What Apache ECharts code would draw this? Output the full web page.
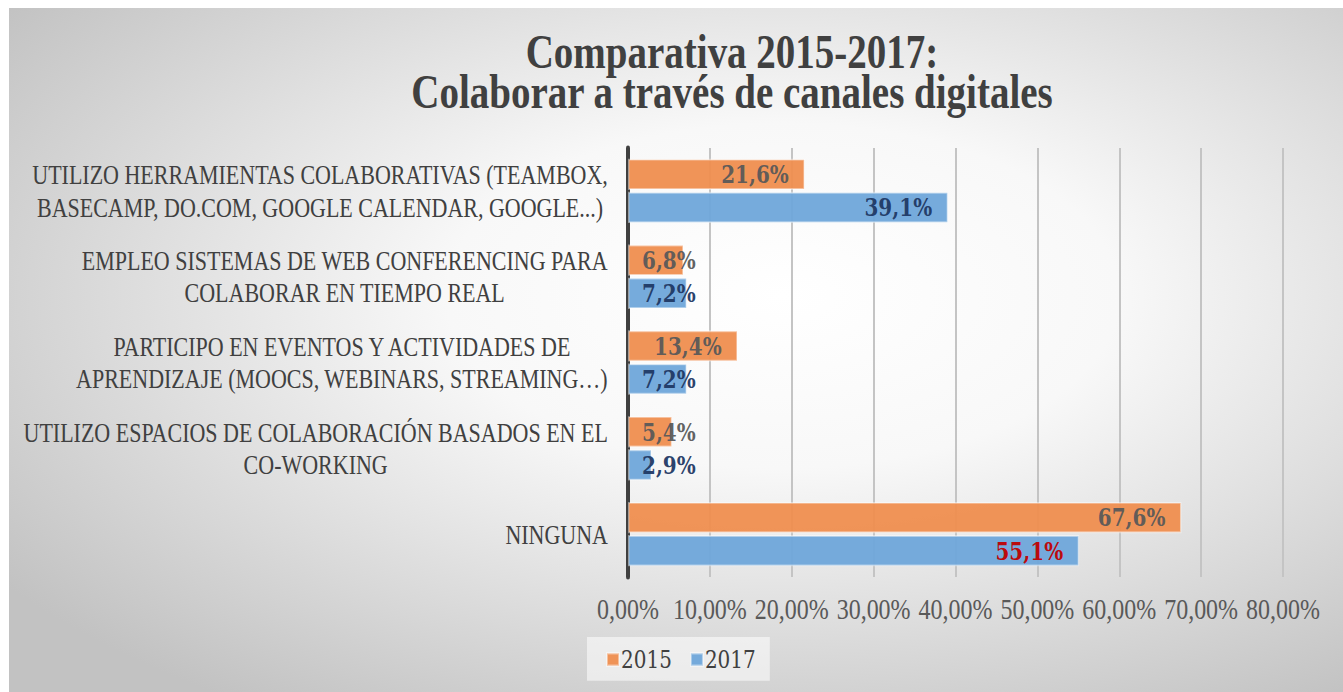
<!DOCTYPE html>
<html>
<head>
<meta charset="utf-8">
<script src="https://cdn.jsdelivr.net/npm/echarts@6/dist/echarts.min.js"></script>
<style>
html,body{margin:0;padding:0;background:#fff;width:1343px;height:692px;}
#wrap{width:1343px;height:692px;position:relative;overflow:visible;}
/* the original picture is a vertically stretched chart, so draw at 554px and stretch to 692px */
#main{position:absolute;left:0;top:0;width:1343px;height:554px;transform:scaleY(1.2491);transform-origin:0 0;}
</style>
</head>
<body>
<div id="wrap"><div id="main"></div></div>
<script>
var categories = [
  'UTILIZO HERRAMIENTAS COLABORATIVAS (TEAMBOX,\nBASECAMP, DO.COM, GOOGLE CALENDAR, GOOGLE...)',
  'EMPLEO SISTEMAS DE WEB CONFERENCING PARA\nCOLABORAR EN TIEMPO REAL',
  'PARTICIPO EN EVENTOS Y ACTIVIDADES DE\nAPRENDIZAJE (MOOCS, WEBINARS, STREAMING\u2026)',
  'UTILIZO ESPACIOS DE COLABORACIÓN BASADOS EN EL\nCO-WORKING',
  'NINGUNA'
];
var values2015 = [21.6, 6.8, 13.4, 5.4, 67.6];
var values2017 = [39.1, 7.2, 7.2, 2.9, 55.1];
var seriesNames = ['2015', '2017'];

var chart = echarts.init(document.getElementById('main'), null, {renderer: 'svg'});
var serif = '"Liberation Serif", "DejaVu Serif", serif';
var labelFont = '"DejaVu Serif", "Liberation Serif", serif';

function pct1(v){ return v.toFixed(1).replace('.', ',') + '%'; }

// small bars get their label at the start, others at the end
function makeItems(vals, color, special){
  return vals.map(function(v, i){
    var small = v < 10;
    return {
      value: v,
      label: {
        position: small ? 'insideLeft' : 'insideRight',
        distance: small ? 14 : 16,
        color: (special && special[i]) ? special[i] : color
      }
    };
  });
}

var option = {
  backgroundColor: '#ffffff',
  graphic: [
    {
      type: 'rect',
      z: -10,
      shape: {x: 9, y: 6.5, width: 1334, height: 548},
      style: {
        fill: {
          type: 'radial', x: 0.58, y: 0.42, r: 0.72,
          colorStops: [
            {offset: 0, color: '#ffffff'},
            {offset: 0.35, color: '#f8f8f8'},
            {offset: 1, color: '#c2c2c2'}
          ]
        }
      },
      silent: true
    }
  ],
  title: {
    text: 'Comparativa 2015-2017:\nColaborar a través de canales digitales',
    left: 727,
    textAlign: 'center',
    top: 21,
    textStyle: {
      fontFamily: serif,
      fontWeight: 'bold',
      fontSize: 39,
      lineHeight: 32,
      color: '#404040'
    }
  },
  legend: {
    data: seriesNames,
    left: 587,
    top: 510,
    itemWidth: 12,
    itemHeight: 10,
    itemGap: 18,
    padding: [8, 14, 7, 19],
    backgroundColor: 'rgba(255,255,255,0.55)',
    icon: 'rect',
    textStyle: {fontFamily: labelFont, fontSize: 20, color: '#404040', padding: [0, 0, 0, -3]}
  },
  grid: {left: 628, right: 60, top: 118.5, bottom: 92, containLabel: false},
  xAxis: {
    type: 'value',
    min: 0,
    max: 80,
    interval: 10,
    axisLine: {show: false},
    axisTick: {show: false},
    splitLine: {lineStyle: {color: '#c4c4c4', width: 2}},
    axisLabel: {
      margin: 14,
      fontFamily: serif,
      fontSize: 24,
      color: '#595959',
      hideOverlap: false,
      formatter: function(v){ return v.toFixed(2).replace('.', ',') + '%'; }
    }
  },
  yAxis: {
    type: 'category',
    inverse: true,
    data: categories,
    axisTick: {show: false},
    axisLine: {lineStyle: {color: '#404040', width: 4}},
    axisLabel: {
      margin: 20,
      align: 'right',
      fontFamily: serif,
      fontSize: 22,
      lineHeight: 26,
      color: '#404040',
      formatter: function(v){
        return v.split('\n').map(function(l){ return '{c|' + l + '}'; }).join('\n');
      },
      rich: {
        c: {align: 'center', fontFamily: serif, fontSize: 22, lineHeight: 26, color: '#404040'}
      }
    }
  },
  series: [
    {
      name: seriesNames[0],
      type: 'bar',
      data: makeItems(values2015, '#595959'),
      barGap: '6%',
      barCategoryGap: '25%',
      itemStyle: {color: '#EF8E4F', borderColor: 'rgba(255,255,255,0.45)', borderWidth: 1.5, opacity: 0.95},
      label: {
        show: true,
        fontFamily: labelFont,
        fontWeight: 'bold',
        fontSize: 20,
        formatter: function(p){ return pct1(p.value); }
      }
    },
    {
      name: seriesNames[1],
      type: 'bar',
      data: makeItems(values2017, '#1F3864', {4: '#C00000'}),
      barGap: '6%',
      barCategoryGap: '25%',
      itemStyle: {color: '#6FA7DA', borderColor: 'rgba(255,255,255,0.45)', borderWidth: 1.5, opacity: 0.95},
      label: {
        show: true,
        fontFamily: labelFont,
        fontWeight: 'bold',
        fontSize: 20,
        formatter: function(p){ return pct1(p.value); }
      }
    }
  ]
};
chart.setOption(option);
</script>
</body>
</html>
